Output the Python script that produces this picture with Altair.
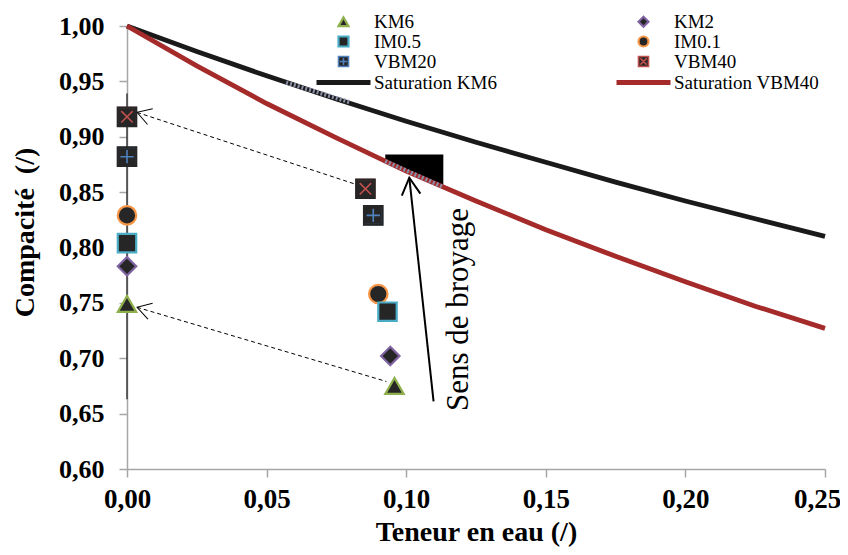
import math
import altair as alt
import pandas as pd

# ---------------- data ----------------
# legend is laid out column by column: column 1 then column 2
legend_order = ["KM6", "IM0.5", "VBM20", "Saturation KM6",
                "KM2", "IM0.1", "VBM40", "Saturation VBM40"]

pt_series = ["VBM40", "VBM20", "IM0.1", "IM0.5", "KM2", "KM6",
             "VBM40", "VBM20", "IM0.1", "IM0.5", "KM2", "KM6"]
pt_x = [0.0, 0.0, 0.0, 0.0, 0.0, 0.0,
        0.0854, 0.0882, 0.0900, 0.0933, 0.0943, 0.0958]
pt_y = [0.918, 0.882, 0.829, 0.804, 0.783, 0.749,
        0.853, 0.829, 0.758, 0.742, 0.702, 0.675]

sat_x = [0.0, 0.025, 0.05, 0.075, 0.10, 0.125, 0.15, 0.175, 0.20, 0.225, 0.25]
sat_km6 = [1.000, 0.977, 0.955, 0.934, 0.914, 0.895, 0.877, 0.859, 0.842, 0.826, 0.810]
sat_vbm40 = [1.000, 0.964, 0.930, 0.899, 0.869, 0.842, 0.816, 0.792, 0.769, 0.747, 0.727]

# striped (hatched-looking) stretches of the two curves
stripe_id = ["km6", "km6", "vbm40", "vbm40"]
stripe_x = [0.057, 0.080, 0.0925, 0.1133]
stripe_y = [0.949, 0.931, 0.878, 0.8546]

# dashed arrows (start near the milled sample -> tip at x = 0)
dash_id = ["VBM40", "VBM40", "KM6", "KM6"]
dash_x = [0.0820, 0.0036, 0.0929, 0.0036]
dash_y = [0.857, 0.922, 0.679, 0.746]

# big "Sens de broyage" arrow (tail -> tip)
big_x = [0.1098, 0.1011]
big_y = [0.661, 0.863]

# black block sitting on the VBM40 saturation curve
blk_x = [0.0925, 0.1133]
blk_y = [0.878, 0.8546]
blk_top = [0.884, 0.884]

# vertical dark line at x = 0
vline_y = [0.663, 0.939]

text_label = ["Sens de broyage"]
text_x = [0.1222]
text_y = [0.744]

# ---------------- styles ----------------
SQ_PLUS = "M-1,-1H1V1H-1Z M0,-0.72V0.72 M-0.72,0H0.72"
SQ_X = "M-1,-1H1V1H-1Z M-0.62,-0.62L0.62,0.62 M-0.62,0.62L0.62,-0.62"
LINE = "M-5.4,0H5.4"
style = {
    "KM6": ("triangle-up", "#8FB04E", "#262626", 2.2),
    "KM2": ("diamond", "#8064A2", "#262626", 2.2),
    "IM0.5": ("square", "#4BACC6", "#262626", 2.2),
    "IM0.1": ("circle", "#F79646", "#262626", 2.2),
    "VBM20": (SQ_PLUS, "#4F81BD", "#262626", 1.6),
    "VBM40": (SQ_X, "#C0504D", "#262626", 1.6),
    "Saturation KM6": (LINE, "#1A1A1A", "#1A1A1A", 4.8),
    "Saturation VBM40": (LINE, "#A52A2A", "#A52A2A", 4.8),
}
shape_range = [style[s][0] for s in legend_order]
stroke_range = [style[s][1] for s in legend_order]
fill_range = [style[s][2] for s in legend_order]
sw_range = [style[s][3] for s in legend_order]

W, H = 698, 443
PX = W / 0.25
PY = H / 0.40

pts = pd.DataFrame({"series": pt_series, "x": pt_x, "y": pt_y})
sat = pd.DataFrame({
    "series": ["Saturation KM6"] * len(sat_x) + ["Saturation VBM40"] * len(sat_x),
    "x": sat_x + sat_x,
    "y": sat_km6 + sat_vbm40,
})
stripes = pd.DataFrame({"id": stripe_id, "x": stripe_x, "y": stripe_y})
dash = pd.DataFrame({"id": dash_id, "x": dash_x, "y": dash_y})
big = pd.DataFrame({"x": big_x, "y": big_y})
blk = pd.DataFrame({"x": blk_x, "y": blk_y, "y2": blk_top})
vline = pd.DataFrame({"x": [0.0, 0.0], "y": vline_y})
txt = pd.DataFrame({"t": text_label, "x": text_x, "y": text_y})


def head_angle(x0, y0, x1, y1):
    dx = (x1 - x0) * PX
    dy = -(y1 - y0) * PY
    return math.degrees(math.atan2(dy, dx)) % 360


heads = pd.DataFrame({
    "x": [dash_x[1], dash_x[3], big_x[1]],
    "y": [dash_y[1], dash_y[3], big_y[1]],
    "ang": [head_angle(dash_x[0], dash_y[0], dash_x[1], dash_y[1]),
            head_angle(dash_x[2], dash_y[2], dash_x[3], dash_y[3]),
            head_angle(big_x[0], big_y[0], big_x[1], big_y[1])],
    "kind": ["small", "small", "big"],
})

xs = alt.Scale(domain=[0, 0.25], nice=False, zero=False)
ys = alt.Scale(domain=[0.6, 1.0], nice=False, zero=False)

xaxis = alt.Axis(values=[0, 0.05, 0.10, 0.15, 0.20, 0.25],
                 labelExpr="replace(format(datum.value, '.2f'), '.', ',')",
                 title="Teneur en eau (/)", titleFontSize=28, labelFontSize=27,
                 labelPadding=9, tickSize=8, labelFlush=False,
                 labelOffset={"condition": {"test": "datum.value > 0.24", "value": -8},
                              "value": 0},
                 titleY=71, titleBaseline="alphabetic")
yaxis = alt.Axis(values=[0.60, 0.65, 0.70, 0.75, 0.80, 0.85, 0.90, 0.95, 1.00],
                 labelExpr="replace(format(datum.value, '.2f'), '.', ',')",
                 title="Compacité\u00a0\u00a0(/)", titleFontSize=28, labelFontSize=26,
                 labelPadding=15, tickSize=8, labelFlush=False,
                 titleX=-102, titleY=206,
                 titleAngle=270, titleAlign="center", titleBaseline="middle")

X = alt.X("x:Q", scale=xs, axis=xaxis)
Y = alt.Y("y:Q", scale=ys, axis=yaxis)

legend = alt.Legend(title=None, orient="none", legendX=207, legendY=-14,
                    columns=2, columnPadding=109, rowPadding=0,
                    symbolSize=100, labelFont="Liberation Serif", labelFontSize=19,
                    labelColor="black", labelOffset=21, padding=0,
                    symbolLimit=0, labelLimit=400)

common = dict(domain=legend_order, type="ordinal")
shape_sc = alt.Scale(range=shape_range, **common)
stroke_sc = alt.Scale(range=stroke_range, **common)
fill_sc = alt.Scale(range=fill_range, **common)
sw_sc = alt.Scale(range=sw_range, **common)

black_block = alt.Chart(blk).mark_area(color="black").encode(
    x=X, y=Y, y2="y2:Q")

lines = alt.Chart(sat).mark_line(strokeCap="butt").encode(
    x=X, y=Y,
    stroke=alt.Stroke("series:N", scale=stroke_sc, legend=legend),
    strokeWidth=alt.StrokeWidth("series:N", scale=sw_sc, legend=legend),
)

stripe_lines = alt.Chart(stripes).mark_line(
    color="#8A8FA8", strokeWidth=4.2, strokeDash=[2, 2], strokeCap="butt").encode(
    x=X, y=Y, detail="id:N")

vrule = alt.Chart(vline).mark_line(color="#3A3A3A", strokeWidth=1.5).encode(x=X, y=Y)

dashed = alt.Chart(dash).mark_line(color="black", strokeWidth=1, strokeDash=[4, 3]).encode(
    x=X, y=Y, detail="id:N")

bigline = alt.Chart(big).mark_line(color="black", strokeWidth=2).encode(x=X, y=Y)

heads_small = alt.Chart(heads).transform_filter("datum.kind == 'small'").mark_point(
    shape="M-1,-0.6L0,0L-1,0.6", size=760, filled=False, color="black",
    strokeWidth=1, opacity=1).encode(
    x=X, y=Y, angle=alt.Angle("ang:Q", scale=None))

heads_big = alt.Chart(heads).transform_filter("datum.kind == 'big'").mark_point(
    shape="M-1,-0.55L0,0L-1,0.55", size=1150, filled=False, color="black",
    strokeWidth=2, opacity=1).encode(
    x=X, y=Y, angle=alt.Angle("ang:Q", scale=None))

points = alt.Chart(pts).mark_point(size=340, filled=True, opacity=1).encode(
    x=X, y=Y,
    shape=alt.Shape("series:N", scale=shape_sc, legend=legend),
    fill=alt.Fill("series:N", scale=fill_sc, legend=legend),
    stroke=alt.Stroke("series:N", scale=stroke_sc, legend=legend),
    strokeWidth=alt.StrokeWidth("series:N", scale=sw_sc, legend=legend),
)

# dark outline over the VBM squares (the cross stays coloured)
vbm_edges = alt.Chart(pts).transform_filter(
    "datum.series == 'VBM20' || datum.series == 'VBM40'").mark_point(
    shape="square", size=340, filled=False, color="#262626", strokeWidth=2.2,
    opacity=1).encode(x=X, y=Y)

text = alt.Chart(txt).mark_text(angle=270, font="Liberation Serif", fontSize=31,
                                align="center", baseline="alphabetic",
                                color="black").encode(x=X, y=Y, text="t:N")

chart = alt.layer(black_block, lines, stripe_lines, vrule, dashed, bigline,
                  heads_small, heads_big, points, vbm_edges, text).properties(
    width=W, height=H,
    autosize=alt.AutoSizeParams(type="none"),
    padding={"left": 119, "top": 18, "right": 15, "bottom": 78},
).configure_axis(
    grid=False, domainColor="#A6A6A6", domainWidth=1.5, tickColor="#A6A6A6",
    tickWidth=1.5, labelFont="Liberation Serif", labelFontWeight="bold",
    labelColor="black", titleFont="Liberation Serif", titleFontWeight="bold",
    titleColor="black",
).configure_view(stroke=None)

chart.save("out.html", embed_options={"renderer": "svg", "actions": False})
